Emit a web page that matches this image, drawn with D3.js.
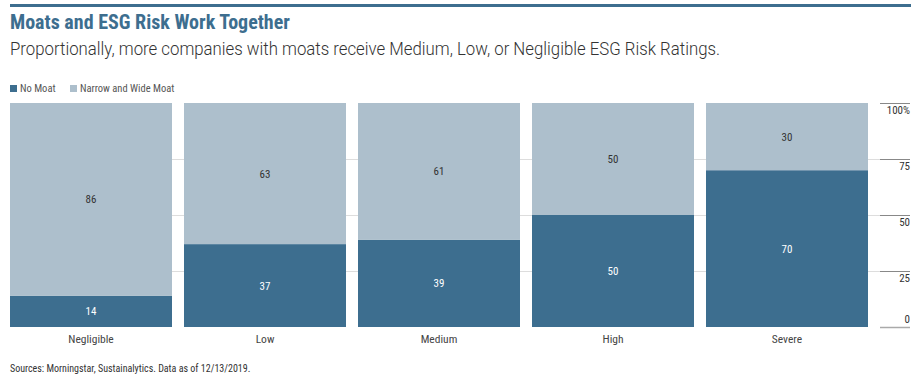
<!DOCTYPE html>
<html><head><meta charset="utf-8">
<script src="https://cdnjs.cloudflare.com/ajax/libs/d3/7.8.5/d3.min.js"></script>
<style>
body{margin:0;background:#fff;}
svg{display:block;}
</style></head>
<body><svg id="c" width="923" height="380"></svg>
<script>
const categories = ["Negligible","Low","Medium","High","Severe"];
const noMoat = [14,37,39,50,70];
const narrowWide = [86,63,61,50,30];
const seriesNames = ["No Moat","Narrow and Wide Moat"];
const yTicks = [0,25,50,75,100];
const title = "Moats and ESG Risk Work Together";
const subtitle = "Proportionally, more companies with moats receive Medium, Low, or Negligible ESG Risk Ratings.";
const source = "Sources: Morningstar, Sustainalytics. Data as of 12/13/2019.";

const dark = "#3d6e8f", light = "#adbfcc";
const narrow = "'Liberation Sans Narrow','Roboto Condensed','Arial Narrow',sans-serif";
const svg = d3.select("#c");

svg.append("rect").attr("x",10).attr("y",4).attr("width",901).attr("height",3).attr("fill",dark);
svg.append("text").attr("x",10).attr("y",29).text(title)
  .attr("font-family",narrow).attr("font-weight","bold").attr("font-size",20).attr("fill",dark);
svg.append("text").attr("x",10).attr("y",55).text(subtitle)
  .attr("font-family","Roboto,sans-serif").attr("font-weight",300).attr("font-size",18).attr("fill","#333")
  .attr("textLength",710).attr("lengthAdjust","spacingAndGlyphs");

// legend
const leg = svg.append("g").attr("font-family",narrow).attr("font-size",10.5).attr("fill","#555");
[[10,dark],[70,light]].forEach((d,i)=>{
  leg.append("rect").attr("x",d[0]).attr("y",85).attr("width",7).attr("height",7).attr("fill",d[1]);
  leg.append("text").attr("x",d[0]+10).attr("y",92).text(seriesNames[i]);
});

const y = d3.scaleLinear().domain([0,100]).range([327,103]);
const x = d3.scaleBand().domain(categories).range([10,880]).paddingInner(12/174).paddingOuter(0).align(0);
const bw = 162;
const xpos = d => 10 + categories.indexOf(d)*174;

// gridlines
svg.append("g").selectAll("line").data(yTicks.filter(t=>t>0&&t<100)).join("line")
  .attr("x1",10).attr("x2",880).attr("y1",d=>y(d)+0.5).attr("y2",d=>y(d)+0.5)
  .attr("stroke","#ddd").attr("stroke-width",1);

const stack = d3.stack().keys(["no","nw"])(categories.map((c,i)=>({cat:c,no:noMoat[i],nw:narrowWide[i]})));
const colors=[dark,light];
stack.forEach((s,si)=>{
  svg.append("g").selectAll("rect").data(s).join("rect")
    .attr("x",d=>xpos(d.data.cat)).attr("width",bw)
    .attr("y",d=>y(d[1])).attr("height",d=>y(d[0])-y(d[1]))
    .attr("fill",colors[si]);
  svg.append("g").selectAll("text").data(s).join("text")
    .attr("x",d=>xpos(d.data.cat)+bw/2).attr("y",d=>(y(d[0])+y(d[1]))/2+4)
    .attr("text-anchor","middle").attr("font-family",narrow).attr("font-size",11)
    .attr("fill",si===0?"#fff":"#333").text(d=>d[1]-d[0]);
});

// category labels
svg.append("g").selectAll("text").data(categories).join("text")
  .attr("x",d=>xpos(d)+bw/2).attr("y",343).attr("text-anchor","middle")
  .attr("font-family",narrow).attr("font-size",11.5).attr("fill","#444").text(d=>d);

// right axis
const ax = svg.append("g");
ax.selectAll("line").data(yTicks).join("line")
  .attr("x1",880).attr("x2",910).attr("y1",d=>y(d)+0.5).attr("y2",d=>y(d)+0.5)
  .attr("stroke",d=>d===0?"#aaa":"#888").attr("stroke-width",d=>d===0?1.5:1);
ax.selectAll("text").data(yTicks).join("text")
  .attr("x",910).attr("y",d=>d===0?y(d)-4:y(d)+11).attr("text-anchor","end")
  .attr("font-family",narrow).attr("font-size",11).attr("fill","#333")
  .text(d=>d===100?"100%":d);

svg.append("text").attr("x",10).attr("y",372).text(source)
  .attr("font-family",narrow).attr("font-size",10).attr("fill","#333");
</script></body></html>
